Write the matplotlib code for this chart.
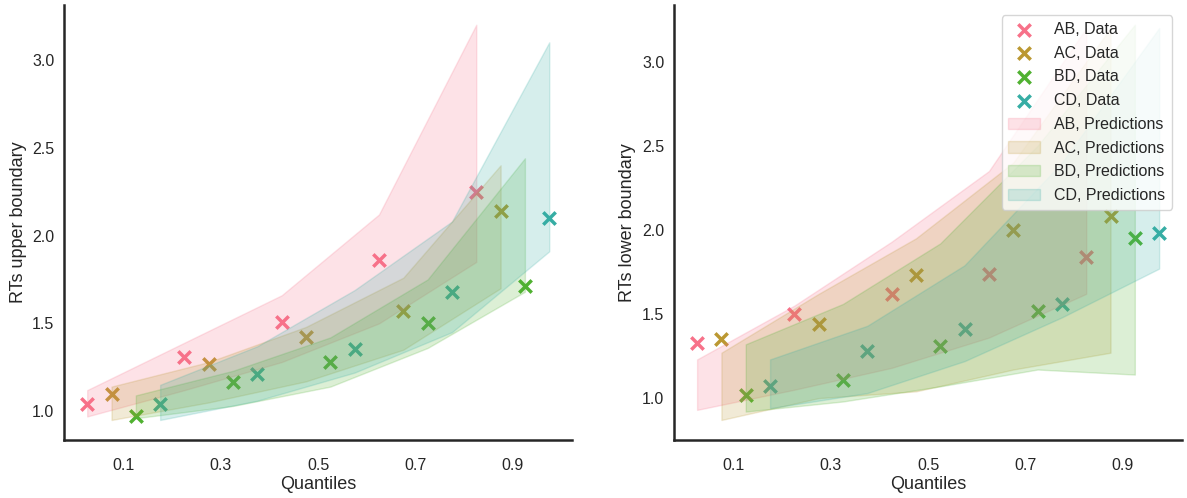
import numpy as np
import matplotlib
matplotlib.use("Agg")
import matplotlib.pyplot as plt
import seaborn as sns

sns.set_style("white")
plt.rcParams['font.family'] = ['Liberation Sans', 'DejaVu Sans']

# quantiles and the four conditions
quantiles = [0.1, 0.3, 0.5, 0.7, 0.9]
conditions = ["AB", "AC", "BD", "CD"]
offsets = [-0.075, -0.025, 0.025, 0.075]
colors = sns.color_palette("husl", 6)[:4]

# upper boundary: data and prediction bands (low / high)
up_data = {
    "AB": [1.04, 1.31, 1.51, 1.86, 2.25],
    "AC": [1.10, 1.27, 1.42, 1.57, 2.14],
    "BD": [0.97, 1.165, 1.28, 1.50, 1.71],
    "CD": [1.04, 1.21, 1.355, 1.68, 2.10],
}
up_low = {
    "AB": [0.97, 1.12, 1.28, 1.50, 1.85],
    "AC": [0.95, 1.05, 1.17, 1.35, 1.70],
    "BD": [0.96, 1.03, 1.14, 1.36, 1.68],
    "CD": [0.95, 1.06, 1.22, 1.45, 1.91],
}
up_high = {
    "AB": [1.12, 1.39, 1.66, 2.12, 3.20],
    "AC": [1.14, 1.28, 1.48, 1.76, 2.40],
    "BD": [1.09, 1.23, 1.42, 1.75, 2.44],
    "CD": [1.15, 1.37, 1.69, 2.08, 3.10],
}

# lower boundary
lo_data = {
    "AB": [1.33, 1.50, 1.62, 1.74, 1.84],
    "AC": [1.35, 1.44, 1.73, 2.00, 2.08],
    "BD": [1.02, 1.11, 1.31, 1.52, 1.95],
    "CD": [1.07, 1.28, 1.41, 1.56, 1.98],
}
lo_low = {
    "AB": [0.93, 1.05, 1.18, 1.36, 1.62],
    "AC": [0.87, 1.00, 1.04, 1.17, 1.27],
    "BD": [0.92, 0.98, 1.07, 1.17, 1.14],
    "CD": [0.94, 1.03, 1.22, 1.48, 1.77],
}
lo_high = {
    "AB": [1.23, 1.55, 1.93, 2.35, 3.20],
    "AC": [1.27, 1.62, 1.95, 2.40, 3.20],
    "BD": [1.32, 1.56, 1.92, 2.50, 3.22],
    "CD": [1.23, 1.43, 1.79, 2.40, 3.20],
}

fig, axes = plt.subplots(1, 2, figsize=(11.87, 4.98), dpi=100)
fig.subplots_adjust(left=0.054, right=0.996, bottom=0.117, top=0.99, wspace=0.2)

panels = [(axes[0], up_data, up_low, up_high, "RTs upper boundary"),
          (axes[1], lo_data, lo_low, lo_high, "RTs lower boundary")]

for ax, data, low, high, ylab in panels:
    for c, off, col in zip(conditions, offsets, colors):
        x = np.array(quantiles) + off
        ax.scatter(x, data[c], marker='x', s=80, linewidths=2.5, color=col,
                   label=c + ", Data")
    for c, off, col in zip(conditions, offsets, colors):
        x = np.array(quantiles) + off
        ax.fill_between(x, low[c], high[c], color=col, alpha=0.2,
                        label=c + ", Predictions")
    ax.set_xticks(quantiles)
    ax.set_xticklabels([str(q) for q in quantiles])
    ax.set_yticks([1.0, 1.5, 2.0, 2.5, 3.0])
    ax.set_xlabel("Quantiles", fontsize=13, labelpad=2)
    ax.set_ylabel(ylab, fontsize=13)
    ax.tick_params(labelsize=11.5)
    ax.tick_params(axis='x', pad=9.5)
    for s in ax.spines.values():
        s.set_linewidth(1.8)
        s.set_color('.15')
    sns.despine(ax=ax)

axes[1].legend(loc='upper right', fontsize=11.5, frameon=True,
               handletextpad=0.9, labelspacing=0.55, borderaxespad=0.65)

plt.savefig("out.png")
